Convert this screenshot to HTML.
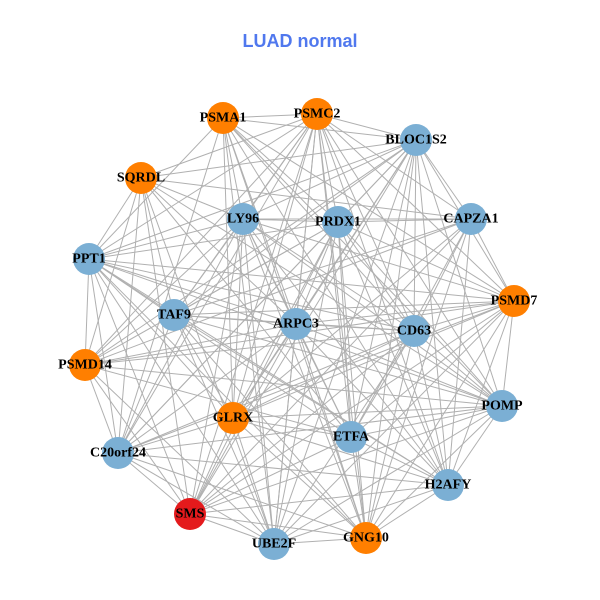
<!DOCTYPE html>
<html><head><meta charset="utf-8"><style>
html,body{margin:0;padding:0;background:#fff;}
svg{display:block}
text{font-family:"Liberation Serif",serif;font-weight:bold;font-size:14px;fill:#000;text-anchor:middle;dominant-baseline:central}
</style></head><body>
<svg id="s" width="600" height="600" viewBox="0 0 600 600">
<rect width="600" height="600" fill="#fff"/>
<text x="300" y="41" style="font-family:'Liberation Sans',sans-serif;font-size:18px;fill:#5078EE">LUAD normal</text>
<g id="e" stroke="#b0b0b0" stroke-width="1"></g>
<g id="n"></g>
</svg>
<script>
var N=[
["PSMA1",223,118,"o"],["PSMC2",317,114,"o"],["BLOC1S2",416,140,"b"],["SQRDL",141,178,"o"],
["LY96",243,219,"b"],["PRDX1",338,222,"b"],["CAPZA1",471,219,"b"],["PPT1",89,259,"b"],
["PSMD7",514,301,"o"],["TAF9",174,315,"b"],["ARPC3",296,324,"b"],["CD63",414,331,"b"],
["PSMD14",85,365,"o"],["POMP",502,406,"b"],["GLRX",233,418,"o"],["ETFA",351,437,"b"],
["C20orf24",118,453,"b"],["H2AFY",448,485,"b"],["SMS",190,514,"r"],["UBE2F",274,544,"b"],
["GNG10",366,538,"o"]];
var C={o:"#FF7F00",b:"#7BAFD4",r:"#E41A1C"};
var ns="http://www.w3.org/2000/svg",e=document.getElementById("e"),g=document.getElementById("n");
for(var i=0;i<N.length;i++)for(var j=i+1;j<N.length;j++){
 if((i*7+j*3)%9==0)continue;
 var l=document.createElementNS(ns,"line");
 l.setAttribute("x1",N[i][1]);l.setAttribute("y1",N[i][2]);l.setAttribute("x2",N[j][1]);l.setAttribute("y2",N[j][2]);e.appendChild(l);}
for(var i=0;i<N.length;i++){
 var c=document.createElementNS(ns,"circle");c.setAttribute("cx",N[i][1]);c.setAttribute("cy",N[i][2]);c.setAttribute("r",16);c.setAttribute("fill",C[N[i][3]]);g.appendChild(c);}
for(var i=0;i<N.length;i++){
 var t=document.createElementNS(ns,"text");t.setAttribute("x",N[i][1]);t.setAttribute("y",N[i][2]);t.textContent=N[i][0];g.appendChild(t);}
</script>
</body></html>
